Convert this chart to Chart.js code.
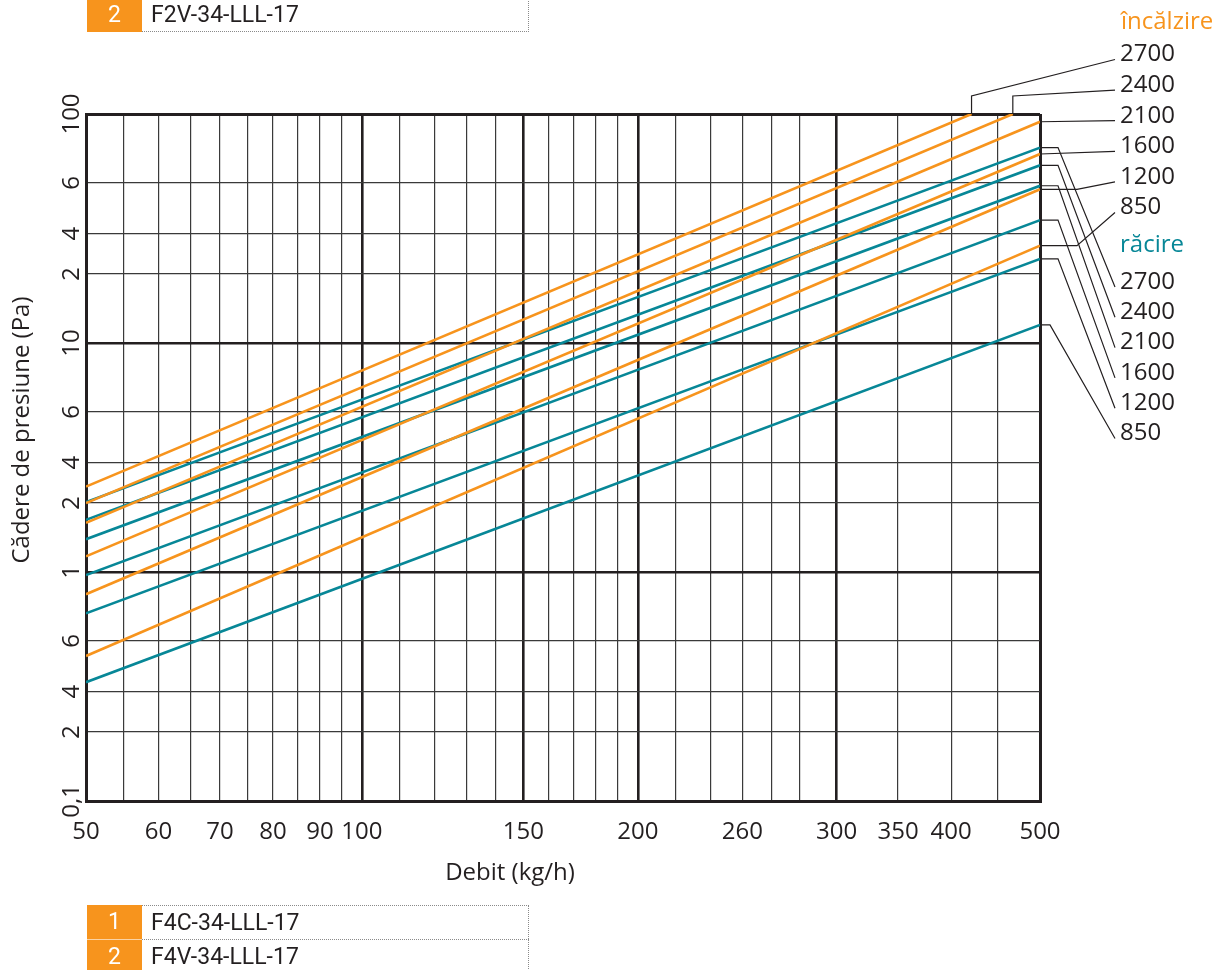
<!DOCTYPE html>
<html>
<head>
<meta charset="utf-8">
<script src="https://cdn.jsdelivr.net/npm/chart.js@4.4.1/dist/chart.umd.min.js"></script>
<style>
  html, body { margin: 0; padding: 0; background: #fff; }
  #wrap { position: relative; width: 1223px; height: 970px; overflow: hidden; }
  #c { position: absolute; left: 0; top: 0; }
  .row { position: absolute; left: 87px; width: 442px; height: 34px; display: flex;
         font: 23px Roboto, "Noto Sans", sans-serif; color: #231f20; z-index: 2; }
  .num { width: 55px; background: #f7941d; color: #fff; text-align: center; line-height: 34px; }
  .txt { flex: 1; padding-left: 9px; line-height: 34px; border-right: 1px dotted #8a8a8a; }
  .dt { border-top: 1px dotted #8a8a8a; }
  .db { border-bottom: 1px dotted #8a8a8a; }
  .sep { border-top: 1px solid #fbd3a4; }
</style>
</head>
<body>
<div id="wrap">
  <canvas id="c" width="1223" height="970"></canvas>
  <div class="row" style="top:-2px"><div class="num">2</div><div class="txt db">F2V-34-LLL-17</div></div>
  <div class="row" style="top:905px"><div class="num">1</div><div class="txt dt">F4C-34-LLL-17</div></div>
  <div class="row" style="top:939px"><div class="num sep">2</div><div class="txt dt">F4V-34-LLL-17</div></div>
</div>
<script>
// ---------------- data ----------------
const flowLabels = [50, 60, 70, 80, 90, 100, 150, 200, 260, 300, 350, 400, 500];
const flowGrid = [50, 55, 60, 65, 70, 75, 80, 85, 90, 95, 100, 110, 120, 130, 140, 150,
                  160, 170, 180, 190, 200, 220, 240, 260, 280, 300, 350, 400, 450, 500];
const flowGridBeforeBreak = [300];
const flowBold = [100, 150, 200, 300];

const pressureGrid = [0.1, 0.2, 0.3, 0.5, 1, 2, 3, 5, 10, 20, 30, 50, 100];
const pressureTickLabels = ['0,1', '2', '4', '6', '1', '2', '4', '6', '10', '2', '4', '6', '100'];
const pressureBold = [1, 10];

const capacities = ['2700', '2400', '2100', '1600', '1200', '850'];
const flowStart = 50;
const heatingStart = [2.36, 2.00, 1.64, 1.17, 0.80, 0.43];
const heatingEndFlow = [421, 467, 500, 500, 500, 500];
const heatingEnd = [100, 100, 92.5, 66.9, 46.9, 26.6];
const coolingStart = [2.02, 1.69, 1.39, 0.97, 0.66, 0.33];
const coolingEndFlow = [500, 500, 500, 500, 500, 500];
const coolingEnd = [71.3, 59.7, 48.6, 34.4, 23.3, 12.0];

const heatingTitle = 'încălzire';
const coolingTitle = 'răcire';
const xTitle = 'Debit (kg/h)';
const yTitle = 'Cădere de presiune (Pa)';

// ---------------- styles ----------------
const ORANGE = '#f7941d';
const TEAL = '#078797';
const INK = '#231f20';
const FONT = '"Open Sans", "Noto Sans", sans-serif';

// ---------------- log scale with the drawn gap at 300 ----------------
class BrokenLogScale extends Chart.LogarithmicScale {
  _u(v, before) {
    const o = this.options;
    let u = Math.log10(v / this.min);
    if (v > o.breakAt || (v === o.breakAt && !before)) u += o.breakSize;
    return u;
  }
  _total() { return Math.log10(this.max / this.min) + this.options.breakSize; }
  getPixelForValue(v) {
    if (v === undefined || v === null || !(v > 0)) v = this.min;
    return this.getPixelForDecimal(this._u(v, false) / this._total());
  }
  getPixelForTick(i) {
    const t = (this.ticks || [])[i];
    if (!t) return NaN;
    return this.getPixelForDecimal(this._u(t.value, t.beforeBreak) / this._total());
  }
  getValueForPixel(p) {
    const o = this.options;
    let u = this.getDecimalForPixel(p) * this._total();
    const ub = Math.log10(o.breakAt / this.min);
    if (u > ub + o.breakSize) u -= o.breakSize; else if (u > ub) u = ub;
    return this.min * Math.pow(10, u);
  }
}
BrokenLogScale.id = 'brokenLog';
BrokenLogScale.defaults = Chart.LogarithmicScale.defaults;
Chart.register(BrokenLogScale);

// ---------------- datasets ----------------
function series(group, i, start, endFlow, end, color, via, labelY) {
  return {
    label: group + ' ' + capacities[i],
    data: [{ x: flowStart, y: start[i] }, { x: endFlow[i], y: end[i] }],
    borderColor: color, backgroundColor: color, borderWidth: 2.6,
    pointRadius: 0, tension: 0, fill: false,
    leader: { via: via, labelY: labelY, text: capacities[i] }
  };
}
const heatVia = [[{ y: 96 }], [{ y: 96 }], [], [], [{ x: 1077 }], [{ x: 1077 }]];
const coolVia = [[{ x: 1058 }], [{ x: 1058 }], [{ x: 1058 }], [{ x: 1058 }], [{ x: 1058 }], [{ x: 1050 }]];
const datasets = [];
capacities.forEach((c, i) => datasets.push(series(heatingTitle, i, heatingStart, heatingEndFlow, heatingEnd, ORANGE, heatVia[i], 54.5 + i * 30.6)));
capacities.forEach((c, i) => datasets.push(series(coolingTitle, i, coolingStart, coolingEndFlow, coolingEnd, TEAL, coolVia[i], 282 + i * 30.3)));

// ---------------- annotations plugin ----------------
const annotations = {
  id: 'annotations',
  afterDraw(chart) {
    const { ctx } = chart;
    const y = chart.scales.y;
    ctx.save();
    ctx.fillStyle = INK;
    ctx.font = '24px ' + FONT;
    ctx.textAlign = 'center';
    ctx.textBaseline = 'middle';
    // rotated pressure tick labels
    pressureGrid.forEach((v, i) => {
      ctx.save();
      ctx.translate(72, y.getPixelForValue(v));
      ctx.rotate(-Math.PI / 2);
      ctx.fillText(pressureTickLabels[i], 0, 0);
      ctx.restore();
    });
    // axis titles
    ctx.save();
    ctx.translate(22, 430);
    ctx.rotate(-Math.PI / 2);
    ctx.fillText(yTitle, 0, 0);
    ctx.restore();
    ctx.fillText(xTitle, 510, 873);
    // group titles
    ctx.textAlign = 'left';
    ctx.fillStyle = ORANGE;
    ctx.fillText(heatingTitle, 1121, 22);
    ctx.fillStyle = TEAL;
    ctx.fillText(coolingTitle, 1120, 245);
    // leaders + labels
    ctx.strokeStyle = INK;
    ctx.lineWidth = 1.2;
    chart.data.datasets.forEach((ds, i) => {
      const pts = chart.getDatasetMeta(i).data;
      const end = pts[pts.length - 1];
      const L = ds.leader;
      ctx.beginPath();
      ctx.moveTo(end.x, end.y);
      L.via.forEach(p => ctx.lineTo(p.x !== undefined ? p.x : end.x, p.y !== undefined ? p.y : end.y));
      ctx.lineTo(1115, L.labelY + 5);
      ctx.stroke();
      ctx.fillStyle = INK;
      ctx.fillText(L.text, 1120, L.labelY);
    });
    ctx.restore();
  }
};

new Chart(document.getElementById('c'), {
  type: 'line',
  data: { datasets: datasets },
  plugins: [annotations],
  options: {
    responsive: false,
    animation: false,
    events: [],
    layout: { padding: { left: 0, right: 183, top: 114, bottom: 0 } },
    plugins: { legend: { display: false }, tooltip: { enabled: false } },
    scales: {
      x: {
        type: 'brokenLog',
        breakAt: 300,
        breakSize: 0.0408,
        min: 50, max: 500,
        afterBuildTicks: (s) => {
          const t = flowGrid.map(v => ({ value: v }));
          flowGridBeforeBreak.forEach(v => t.push({ value: v, beforeBreak: true }));
          s.ticks = t;
        },
        afterFit: (s) => { s.height = 169; },
        border: { display: true, width: 3, color: INK },
        grid: {
          drawTicks: false,
          color: (c) => (c.tick && (flowBold.includes(c.tick.value) && !c.tick.beforeBreak)) || (c.tick && (c.tick.value === 50 || c.tick.value === 500)) ? INK : '#3a3a3a',
          lineWidth: (c) => {
            if (!c.tick) return 1.2;
            if (c.tick.value === 50 || c.tick.value === 500) return 3;
            if (flowBold.includes(c.tick.value) && !c.tick.beforeBreak) return 2.6;
            return 1.2;
          }
        },
        ticks: {
          autoSkip: false, maxRotation: 0, minRotation: 0, padding: 17,
          color: INK, font: { family: FONT, size: 24 },
          callback: function (value, index, ticks) {
            const t = ticks[index];
            if (t && t.beforeBreak) return '';
            return flowLabels.includes(value) ? String(value) : '';
          }
        }
      },
      y: {
        type: 'logarithmic',
        min: 0.1, max: 100,
        afterBuildTicks: (s) => { s.ticks = pressureGrid.map(v => ({ value: v })); },
        afterFit: (s) => { s.width = 86; },
        border: { display: true, width: 3, color: INK },
        grid: {
          drawTicks: false,
          color: (c) => (c.tick && (pressureBold.includes(c.tick.value) || c.tick.value === 100 || c.tick.value === 0.1)) ? INK : '#3a3a3a',
          lineWidth: (c) => {
            if (!c.tick) return 1.2;
            if (c.tick.value === 100 || c.tick.value === 0.1) return 3;
            if (pressureBold.includes(c.tick.value)) return 2.6;
            return 1.2;
          }
        },
        ticks: { display: false }
      }
    }
  }
});
</script>
</body>
</html>
